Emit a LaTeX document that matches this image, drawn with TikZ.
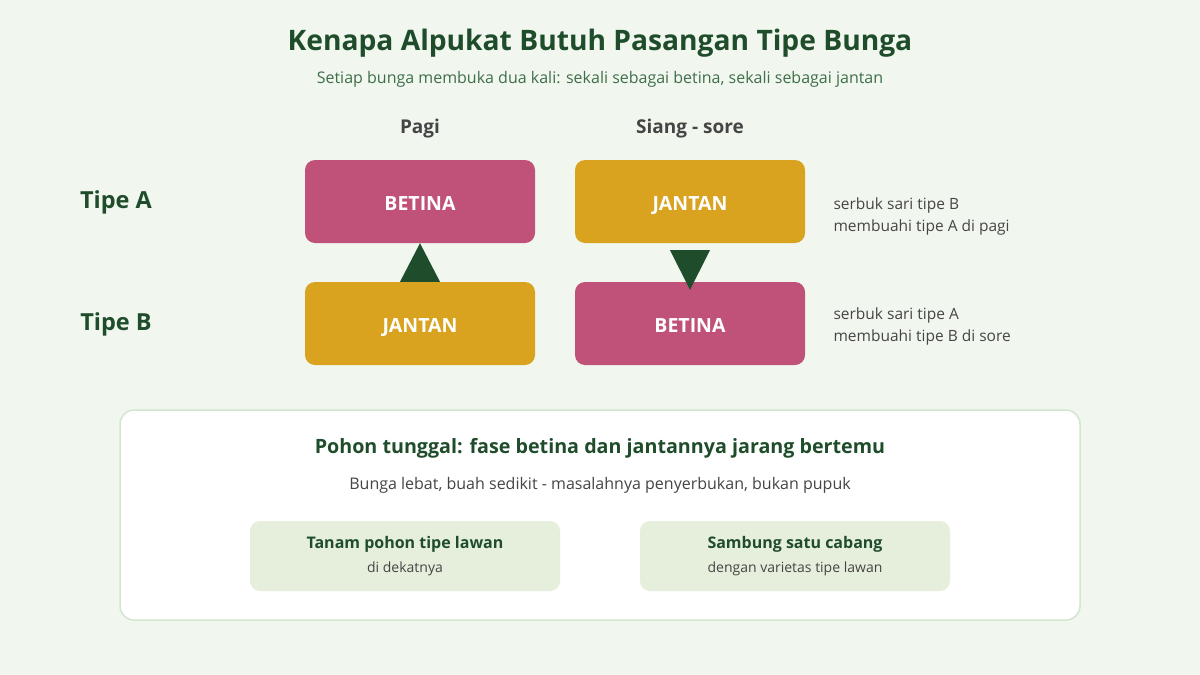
\documentclass[tikz,border=0pt]{standalone}
\usepackage{fontspec}
\setmainfont{Open Sans}
\usetikzlibrary{
    positioning,
    calc
}
\definecolor{HijauTua}{HTML}{1F4D2B}
\definecolor{HijauTeks}{HTML}{3F6E4A}
\definecolor{Latar}{HTML}{F1F7EF}
\definecolor{Garis}{HTML}{D4E6CF}
\definecolor{HijauMuda}{HTML}{E6EFDC}
\definecolor{Merah}{HTML}{C05178}
\definecolor{Emas}{HTML}{D9A21F}
\definecolor{AbuTeks}{HTML}{454545}
\newcommand{\fsz}[1]{\fontsize{#1}{#1}\selectfont}

\tikzset{
    bunga/.style={
        rounded corners=10pt,
        minimum width=230pt,
        minimum height=83pt,
        text height=17pt,
        text depth=0pt,
        text=white,
        font=\fsz{19.5}\bfseries
    },
    betina/.style={bunga, fill=Merah},
    jantan/.style={bunga, fill=Emas},
    tipe/.style={font=\fsz{23.5}\bfseries, text=HijauTua},
    waktu/.style={font=\fsz{19}\bfseries, text=AbuTeks},
    catatan/.style={font=\fsz{15.5}, text=AbuTeks, align=left, anchor=west},
    saran/.style={
        fill=HijauMuda,
        rounded corners=10pt,
        minimum width=310pt,
        minimum height=70pt,
        align=center
    }
}

\begin{document}
\begin{tikzpicture}[x=1pt, y=-1pt]
                % latar belakang
                \fill[Latar] (0,0) rectangle (1200,675);
                \useasboundingbox (0,0) rectangle (1200,675);

                \node[font=\fsz{28.2}\bfseries, text=HijauTua] (judul) at (600,43)
                    {Kenapa Alpukat Butuh Pasangan Tipe Bunga};
                \node[font=\fsz{16}, text=HijauTeks] (subjudul) at (600,79)
                    {Setiap bunga membuka dua kali: sekali sebagai betina, sekali sebagai jantan};

                \node[waktu] (pagi) at (420,129) {Pagi};
                \node[waktu] (siang) at (690,129) {Siang - sore};

                \node[tipe] (tipeA) at (116,202) {Tipe A};
                \node[tipe] (tipeB) at (116,324) {Tipe B};

                % kotak bunga
                \node[betina] (betinaA) at (420,201.5) {BETINA};
                \node[jantan] (jantanA) at (690,201.5) {JANTAN};
                \node[jantan] (jantanB) at (420,323.5) {JANTAN};
                \node[betina] (betinaB) at (690,323.5) {BETINA};

                % arah penyerbukan
                \fill[HijauTua]
                    ($(jantanB.north)+(-20,0)$) -- (betinaA.south)
                    -- ($(jantanB.north)+(20,0)$) -- cycle;
                \fill[HijauTua]
                    ($(jantanA.south)+(-20,7)$) -- ($(betinaB.north)+(0,8)$)
                    -- ($(jantanA.south)+(20,7)$) -- cycle;

                \node[catatan] (catA) at (830,216.5)
                    {serbuk sari tipe B\\[6.5pt]membuahi tipe A di pagi};
                \node[catatan] (catB) at (830,326.5)
                    {serbuk sari tipe A\\[6.5pt]membuahi tipe B di sore};

                % panel bawah
                \node[
                    fill=white,
                    draw=Garis,
                    line width=1.5pt,
                    rounded corners=14pt,
                    minimum width=960pt,
                    minimum height=210pt
                ] (panel) at (600,515) {};

                \node[font=\fsz{19.7}\bfseries, text=HijauTua] (masalah) at (600,448)
                    {Pohon tunggal: fase betina dan jantannya jarang bertemu};
                \node[font=\fsz{16}, text=AbuTeks] (gejala) at (600,485)
                    {Bunga lebat, buah sedikit - masalahnya penyerbukan, bukan pupuk};

                \node[saran] (tanam) at (405,556) {
                    {\fsz{16}\bfseries\color{HijauTua}Tanam pohon tipe lawan}
                    \\[8pt]
                    {\fsz{14}\color{AbuTeks}di dekatnya}
                };
                \node[saran] (sambung) at (795,556) {
                    {\fsz{16}\bfseries\color{HijauTua}Sambung satu cabang}
                    \\[8pt]
                    {\fsz{14}\color{AbuTeks}dengan varietas tipe lawan}
                };
            \end{tikzpicture}
\end{document}
